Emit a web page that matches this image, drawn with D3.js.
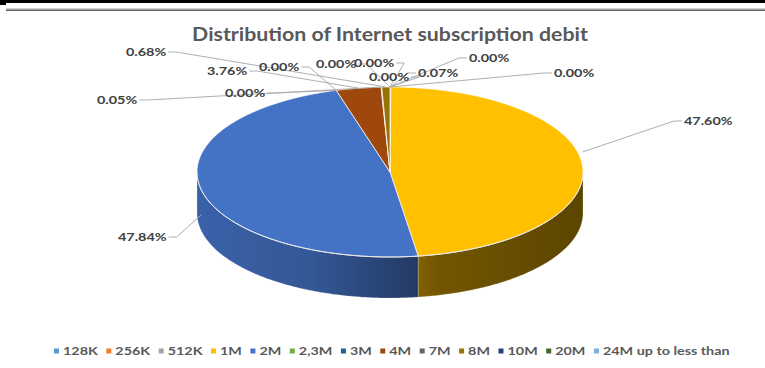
<!DOCTYPE html>
<html><head><meta charset="utf-8">
<script src="https://cdn.jsdelivr.net/npm/d3@7/dist/d3.min.js"></script>
<style>
html,body{margin:0;padding:0;background:#fff;}
svg{display:block;font-family:Lato,"Open Sans",sans-serif;}
</style></head>
<body>
<svg id="chart" width="765" height="368"></svg>
<script>
// ---- data ----
const title = "Distribution of Internet subscription debit";
const categories = ["128K","256K","512K","1M","2M","2,3M","3M","4M","7M","8M","10M","20M","24M up to less than"];
const values = [0.00, 0.00, 0.07, 47.60, 47.84, 0.00, 0.00, 3.76, 0.05, 0.68, 0.00, 0.00, 0.00];
const colors = ["#5B9BD5","#ED7D31","#A5A5A5","#FFC000","#4472C4","#70AD47","#255E91","#9E480E","#636363","#997300","#264478","#43682B","#7CAFDD"];

// ---- layout (label placement as in the original) ----
const labelLayout = [
  {x:554, y:72, side:"R"}, {x:469, y:57, side:"R"}, {x:418, y:72, side:"R"},
  {x:684, y:120, side:"R"}, {x:118, y:236, side:"L"},
  {x:225, y:92, side:"L"}, {x:259, y:66, side:"L"}, {x:207, y:70, side:"L"},
  {x:97, y:99, side:"L"}, {x:126, y:51, side:"L"},
  {x:316, y:63, side:"L"}, {x:354, y:62, side:"L"}, {x:369, y:76, side:"L"}
];

const svg = d3.select("#chart");
const W = 765, H = 368;
const SXL = 1.2;  // horizontal stretch of label text
const SXG = 1.25; // horizontal stretch of legend text

// top decoration
svg.append("rect").attr("x",0).attr("y",0).attr("width",W).attr("height",3).attr("fill","#000");
svg.append("rect").attr("x",0).attr("y",3).attr("width",6).attr("height",2).attr("fill","#000");
svg.append("rect").attr("x",6).attr("y",8.5).attr("width",W-6).attr("height",1.3).attr("fill","#a0a0a0");
svg.append("rect").attr("x",6).attr("y",9.8).attr("width",W-6).attr("height",1.2).attr("fill","#606060");

// title
const t = svg.append("text").attr("font-size",18).attr("font-weight","bold").attr("fill","#595959")
  .attr("text-anchor","middle").text(title);
const tw = t.node().getComputedTextLength();
t.attr("transform",`translate(390,41) scale(${396/tw},1)`);

// pie geometry
const cx = 390, cy = 172, rx = 193, ry = 85, depth = 41;
const pie = d3.pie().sort(null).value(d=>d).startAngle(0).endAngle(2*Math.PI);
const arcs = pie(values);
const px = a => cx + rx*Math.sin(a);
const py = a => cy - ry*Math.cos(a);

const defs = svg.append("defs");
const shadeStops = [[0,0.86],[0.3,0.76],[0.58,0.5],[0.62,0.45],[1,0.36]];
colors.forEach((c,i)=>{
  const g = defs.append("linearGradient").attr("id","side"+i).attr("gradientUnits","userSpaceOnUse")
    .attr("x1",cx-rx).attr("x2",cx+rx).attr("y1",0).attr("y2",0);
  const base = d3.rgb(c);
  shadeStops.forEach(([o,f])=>{
    g.append("stop").attr("offset",o).attr("stop-color",d3.rgb(base.r*f,base.g*f,base.b*f).formatHex());
  });
});

function sample(a0,a1){
  const n = Math.max(2, Math.ceil((a1-a0)/0.01));
  const pts=[];
  for(let k=0;k<=n;k++){const a=a0+(a1-a0)*k/n; pts.push([px(a),py(a)]);}
  return pts;
}

// walls
const gw = svg.append("g");
arcs.forEach((d,i)=>{
  const a0 = Math.max(d.startAngle, Math.PI/2), a1 = Math.min(d.endAngle, 3*Math.PI/2);
  if (a1 <= a0) return;
  const top = sample(a0,a1);
  const bot = top.slice().reverse().map(([x,y])=>[x,y+depth]);
  gw.append("path").attr("d","M"+top.concat(bot).map(p=>p.join(",")).join("L")+"Z")
    .attr("fill",`url(#side${i})`).attr("stroke","rgba(255,255,255,0.35)").attr("stroke-width",0.6);
});

// tops
const gt = svg.append("g");
arcs.forEach((d,i)=>{
  if (d.endAngle - d.startAngle <= 0) return;
  const pts = [[cx,cy]].concat(sample(d.startAngle,d.endAngle));
  gt.append("path").attr("d","M"+pts.map(p=>p.join(",")).join("L")+"Z")
    .attr("fill",colors[i]).attr("stroke","#ffffff").attr("stroke-width",0.7).attr("stroke-linejoin","round");
});
// rim highlight
gt.append("path").attr("d","M"+sample(Math.PI/2,3*Math.PI/2).map(p=>p.join(",")).join("L"))
  .attr("fill","none").attr("stroke","#e8e8e8").attr("stroke-width",1);

// labels and leaders
const gl = svg.append("g");
const gLab = svg.append("g");
arcs.forEach((d,i)=>{
  const L = labelLayout[i];
  const txt = gLab.append("text").attr("font-size",12).attr("font-weight","bold").attr("fill","#404040")
    .attr("dominant-baseline","central").text(values[i].toFixed(2)+"%")
    .attr("transform",`translate(${L.x},${L.y}) scale(${SXL},1)`);
  const w = txt.node().getComputedTextLength()*SXL;
  const mid = (d.startAngle+d.endAngle)/2;
  let ax = px(mid), ay = py(mid);
  if (Math.cos(mid) < -0.05) ay += depth*0.6;
  if (Math.cos(mid) >= -0.05 && Math.abs(Math.sin(mid)) > 0.9) ay -= 14;
  let pts;
  if (L.side==="L") {
    const sx0 = L.x + w + 2;
    pts = [[sx0,L.y+1],[sx0+8,L.y+1],[ax,ay]];
  } else {
    const sx0 = L.x - 2;
    pts = [[sx0,L.y+1],[sx0-8,L.y+1],[ax,ay]];
  }
  gl.append("polyline").attr("points",pts.map(p=>p.join(",")).join(" "))
    .attr("fill","none").attr("stroke","#A6A6A6").attr("stroke-width",0.9);
});

// legend
const gLeg = svg.append("g");
let lx = 54; const ly = 351;
categories.forEach((c,i)=>{
  gLeg.append("rect").attr("x",lx).attr("y",ly-2.5).attr("width",5).attr("height",5).attr("fill",colors[i]);
  const tx = gLeg.append("text").attr("font-size",11.5).attr("font-weight","bold").attr("fill","#595959")
    .attr("dominant-baseline","central").text(c)
    .attr("transform",`translate(${lx+9},${ly}) scale(${SXG},1)`);
  const w = tx.node().getComputedTextLength()*SXG;
  lx = lx + 9 + w + 8.5;
});
</script>
</body></html>
